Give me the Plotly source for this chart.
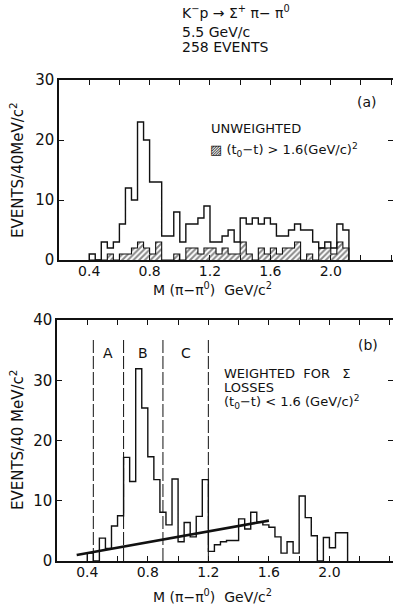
import plotly.graph_objects as go

W, H = 393, 606
BIN = 0.04
FONT = "DejaVu Sans"
INK = "#111111"

# Histogram bins: 40 MeV wide, first bin starts at 0.40 GeV/c^2
bin_start = 0.40

# (a) unweighted counts
unweighted = [1, 0, 3, 2, 3, 6, 12, 10, 23, 20,
              13, 13, 4, 4, 8, 3, 6, 6, 7, 9,
              3, 3, 4, 5, 3, 7, 6, 7, 6, 7,
              6, 4, 4, 5, 6, 5, 5, 3, 2, 3,
              2, 6, 5]
# (a) hatched subset: (t0 - t) > 1.6 (GeV/c)^2
large_t = [0, 0, 0, 1, 0, 1, 1, 2, 3, 2,
           1, 3, 0, 0, 1, 0, 2, 2, 1, 2,
           2, 1, 2, 1, 1, 3, 1, 0, 2, 1,
           2, 1, 2, 2, 3, 0, 1, 0, 2, 2,
           1, 3, 2]
# (b) weighted for Sigma losses, (t0 - t) < 1.6 (GeV/c)^2
weighted = [1.3, 0, 3.8, 2.1, 5.8, 7.5, 17.2, 13.2, 31.9, 25.4,
            17.3, 13.5, 8.1, 6.0, 13.6, 3.2, 6.4, 4.0, 7.4, 13.5,
            1.6, 2.7, 3.2, 3.4, 3.4, 7.0, 5.3, 8.1, 6.5, 6.0,
            5.6, 4.0, 1.3, 3.2, 1.3, 10.8, 7.2, 4.2, 0, 3.9,
            2.2, 4.7, 4.7]

# Mass regions A, B, C and background line in (b)
region_edges = [0.44, 0.64, 0.90, 1.20]
region_names = ["A", "B", "C"]
region_top = 37
bg_x = [0.33, 1.60]
bg_y = [1.0, 6.7]

x_ticks = [0.4, 0.6, 0.8, 1.0, 1.2, 1.4, 1.6, 1.8, 2.0, 2.2, 2.4]
x_labels = ["0.4", "", "0.8", "", "1.2", "", "1.6", "", "2.0", "", ""]


def edges_for(vals):
    return [round(bin_start + i * BIN, 4) for i in range(len(vals) + 1)]


def step_outline(vals):
    e = edges_for(vals)
    xs = [e[0]] + e[:-1] + [e[-1]]
    ys = [0] + list(vals) + [0]
    return xs, ys


def centers_for(vals):
    e = edges_for(vals)
    return [round((e[i] + e[i + 1]) / 2, 4) for i in range(len(vals))]


def px(x):
    return x / W


def py(y):
    return 1 - y / H


fig = go.Figure()

# ---- panel (a) ----
fig.add_trace(go.Bar(
    x=centers_for(large_t), y=large_t, width=BIN,
    marker=dict(color="white", line=dict(width=0),
                pattern=dict(shape="/", fgcolor=INK, bgcolor="white",
                             size=4, solidity=0.5)),
    xaxis="x", yaxis="y", showlegend=False, hoverinfo="skip"))
hx, hy = step_outline(large_t)
fig.add_trace(go.Scatter(x=hx, y=hy, mode="lines", line_shape="hv",
                         line=dict(color=INK, width=1.1),
                         xaxis="x", yaxis="y", showlegend=False))
ux, uy = step_outline(unweighted)
fig.add_trace(go.Scatter(x=ux, y=uy, mode="lines", line_shape="hv",
                         line=dict(color=INK, width=1.4),
                         xaxis="x", yaxis="y", showlegend=False))

# ---- panel (b) ----
for xb in region_edges:
    fig.add_trace(go.Scatter(x=[xb, xb], y=[0, region_top], mode="lines",
                             line=dict(color=INK, width=1, dash="13px,3px"),
                             xaxis="x2", yaxis="y2", showlegend=False))
wx, wy = step_outline(weighted)
fig.add_trace(go.Scatter(x=wx, y=wy, mode="lines", line_shape="hv",
                         line=dict(color=INK, width=1.4),
                         xaxis="x2", yaxis="y2", showlegend=False))
fig.add_trace(go.Scatter(x=bg_x, y=bg_y, mode="lines",
                         line=dict(color=INK, width=2.6),
                         xaxis="x2", yaxis="y2", showlegend=False))

axis_common = dict(showline=True, linecolor=INK, linewidth=1.5,
                   mirror="ticks", ticks="inside", ticklen=5, tickwidth=1.2,
                   tickcolor=INK, showgrid=False, zeroline=False,
                   automargin=False)

x_common = dict(axis_common, tickmode="array", tickvals=x_ticks,
                ticktext=x_labels, ticklabelstandoff=-3,
                tickfont=dict(family=FONT, size=14, color=INK))

fig.update_layout(
    width=W, height=H,
    margin=dict(l=0, r=0, t=0, b=0),
    paper_bgcolor="white", plot_bgcolor="white",
    bargap=0, barmode="overlay",
    font=dict(family=FONT, color=INK),
    xaxis=dict(x_common, domain=[px(59), 1], range=[0.2, 2.412], anchor="y"),
    yaxis=dict(axis_common, domain=[py(260), py(80)], range=[0, 30],
               tickvals=[0, 10, 20, 30], anchor="x",
               tickfont=dict(family=FONT, size=15, color=INK)),
    xaxis2=dict(x_common, domain=[px(57), 1], range=[0.2, 2.42], anchor="y2"),
    yaxis2=dict(axis_common, domain=[py(561), py(320)], range=[0, 40],
                tickvals=[0, 10, 20, 30, 40], anchor="x2",
                tickfont=dict(family=FONT, size=15, color=INK)),
)

ann = []


def text_at(x, y, s, size=13, xanchor="left", angle=0):
    ann.append(dict(x=px(x), y=py(y), xref="paper", yref="paper", text=s,
                    showarrow=False, xanchor=xanchor, yanchor="middle",
                    textangle=angle, font=dict(family=FONT, size=size, color=INK)))


# header
text_at(180, 12, "K<sup>−</sup>p → Σ<sup>+</sup> π− π<sup>0</sup>", 14)
text_at(180, 32, "5.5 GeV/c", 14)
text_at(180, 47, "258 EVENTS", 14)

# panel (a) labels
text_at(367, 102, "(a)", 14, "center")
text_at(209, 128, "UNWEIGHTED", 13)
text_at(208, 150, "▨ (t<sub>0</sub>−t) > 1.6(GeV/c)<sup>2</sup>", 13)
text_at(212, 289, "M (π−π<sup>0</sup>)  GeV/c<sup>2</sup>", 14, "center")
text_at(17, 170, "EVENTS/40MeV/c<sup>2</sup>", 15, "center", -90)

# panel (b) labels
text_at(368, 345, "(b)", 14, "center")
text_at(222, 373, "WEIGHTED\u00a0 FOR\u00a0\u00a0 Σ", 13)
text_at(222, 387, "LOSSES", 13)
text_at(222, 402, "(t<sub>0</sub>−t) < 1.6 (GeV/c)<sup>2</sup>", 13)
text_at(212, 596, "M (π−π<sup>0</sup>)  GeV/c<sup>2</sup>", 14, "center")
text_at(17, 440, "EVENTS/40 MeV/c<sup>2</sup>", 15, "center", -90)

for i, name in enumerate(region_names):
    ann.append(dict(x=(region_edges[i] + region_edges[i + 1]) / 2, y=34.5,
                    xref="x2", yref="y2", text=name, showarrow=False,
                    font=dict(family=FONT, size=14, color=INK)))

fig.update_layout(annotations=ann)

fig.write_html("out.html")
